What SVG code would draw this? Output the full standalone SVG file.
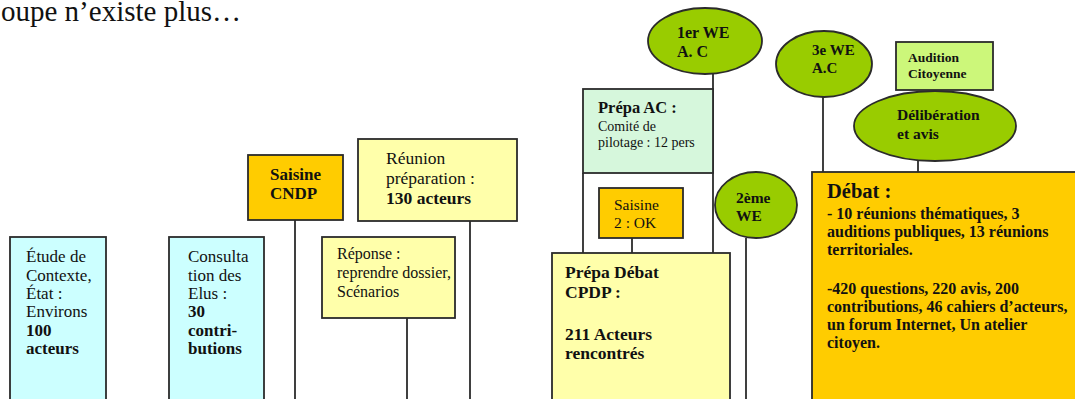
<svg xmlns="http://www.w3.org/2000/svg" width="1075" height="399" viewBox="0 0 1075 399">
<style>
.b{stroke:#2b2b2b;stroke-width:1.8}
.cy{fill:#ccffff}
.ye{fill:#ffffaa}
.or{fill:#ffcc00}
.mi{fill:#d6f7dc}
.gr{fill:#99cc00}
.lg{fill:#ccf77a}
.t{font-family:"Liberation Serif","Times New Roman",serif;fill:#111}
.bd{font-weight:bold}
.ln{stroke:#2b2b2b;stroke-width:1.8;fill:none}
</style>
<rect width="1075" height="399" fill="#ffffff"/>
<text class="t" x="1" y="21" font-size="29">oupe n’existe plus…</text>

<g id="connectors">
<line class="ln" x1="295" y1="220" x2="295" y2="400"/>
<line class="ln" x1="470" y1="221" x2="470" y2="400"/>
<line class="ln" x1="407" y1="318" x2="407" y2="400"/>
<line class="ln" x1="713" y1="74" x2="713" y2="253"/>
<line class="ln" x1="583" y1="173" x2="583" y2="253"/>
<line class="ln" x1="632" y1="238" x2="632" y2="253"/>
<line class="ln" x1="746" y1="238" x2="746" y2="400"/>
<line class="ln" x1="823" y1="97" x2="823" y2="172"/>
<line class="ln" x1="918" y1="161" x2="918" y2="188"/>
</g>

<g id="etude">
<rect class="b cy" x="10" y="237" width="96" height="170"/>
<text class="t" font-size="17"><tspan x="26" y="262">Étude de</tspan><tspan x="26" y="281">Contexte,</tspan><tspan x="26" y="299">État :</tspan><tspan x="26" y="317">Environs</tspan><tspan x="26" y="336" class="bd">100</tspan><tspan x="26" y="354" class="bd">acteurs</tspan></text>
</g>

<g id="consultation">
<rect class="b cy" x="169" y="237" width="95" height="170"/>
<text class="t" font-size="17"><tspan x="188" y="262">Consulta</tspan><tspan x="188" y="281">tion des</tspan><tspan x="188" y="299">Elus :</tspan><tspan x="188" y="317" class="bd">30</tspan><tspan x="188" y="336" class="bd">contri-</tspan><tspan x="188" y="354" class="bd">butions</tspan></text>
</g>

<g id="saisine-cndp">
<rect class="b or" x="248" y="155" width="95" height="65"/>
<text class="t bd" font-size="17"><tspan x="270" y="180">Saisine</tspan><tspan x="270" y="199">CNDP</tspan></text>
</g>

<g id="reunion">
<rect class="b ye" x="358" y="139" width="159" height="82"/>
<text class="t" font-size="17.5"><tspan x="386" y="164">Réunion</tspan><tspan x="386" y="184">préparation :</tspan><tspan x="386" y="204" class="bd">130 acteurs</tspan></text>
</g>

<g id="reponse">
<rect class="b ye" x="322" y="237" width="133" height="81"/>
<text class="t" font-size="16"><tspan x="337" y="259">Réponse :</tspan><tspan x="337" y="278">reprendre dossier,</tspan><tspan x="337" y="297">Scénarios</tspan></text>
</g>

<g id="prepa-ac">
<rect class="b mi" x="583" y="89" width="130" height="84"/>
<text class="t" font-size="16.5" font-weight="bold" x="598" y="113">Prépa AC :</text>
<text class="t" font-size="14"><tspan x="598" y="131">Comité  de</tspan><tspan x="598" y="147">pilotage  : 12 pers</tspan></text>
</g>

<g id="we1">
<ellipse class="b gr" cx="705" cy="41" rx="57" ry="33"/>
<text class="t bd" font-size="16"><tspan x="677" y="38">1er WE</tspan><tspan x="677" y="57">A. C</tspan></text>
</g>

<g id="saisine2">
<rect class="b or" x="599" y="188" width="84" height="50"/>
<text class="t" font-size="15.5"><tspan x="614" y="210">Saisine</tspan><tspan x="614" y="228">2 : OK</tspan></text>
</g>

<g id="prepa-debat">
<rect class="b ye" x="552" y="253" width="178" height="155"/>
<text class="t bd" font-size="17.5"><tspan x="565" y="278">Prépa Débat</tspan><tspan x="565" y="298">CPDP :</tspan><tspan x="565" y="340">211 Acteurs</tspan><tspan x="565" y="359">rencontrés</tspan></text>
</g>

<g id="we2">
<ellipse class="b gr" cx="756" cy="205" rx="41" ry="33"/>
<text class="t bd" font-size="15.5"><tspan x="736" y="203">2ème</tspan><tspan x="736" y="221">WE</tspan></text>
</g>

<g id="we3">
<ellipse class="b gr" cx="824" cy="64" rx="48" ry="33"/>
<text class="t bd" font-size="15"><tspan x="812" y="55">3e WE</tspan><tspan x="812" y="73">A.C</tspan></text>
</g>

<g id="audition">
<rect class="b lg" x="896" y="42" width="97" height="48"/>
<text class="t bd" font-size="13.5"><tspan x="908" y="62">Audition</tspan><tspan x="908" y="78">Citoyenne</tspan></text>
</g>

<g id="deliberation">
<ellipse class="b gr" cx="935" cy="126" rx="81" ry="35"/>
<text class="t bd" font-size="15.5"><tspan x="897" y="120">Délibération</tspan><tspan x="897" y="139">et avis</tspan></text>
</g>

<g id="debat">
<rect class="b or" x="812" y="172" width="270" height="236"/>
<text class="t bd" font-size="20.5" x="827" y="198">Débat :</text>
<text class="t bd" font-size="16"><tspan x="827" y="219">- 10 réunions thématiques, 3</tspan><tspan x="827" y="237">auditions publiques, 13 réunions</tspan><tspan x="827" y="255">territoriales.</tspan><tspan x="827" y="294">-420 questions, 220 avis, 200</tspan><tspan x="827" y="312">contributions, 46 cahiers d’acteurs,</tspan><tspan x="827" y="330">un forum Internet, Un atelier</tspan><tspan x="827" y="348">citoyen.</tspan></text>
</g>
</svg>
